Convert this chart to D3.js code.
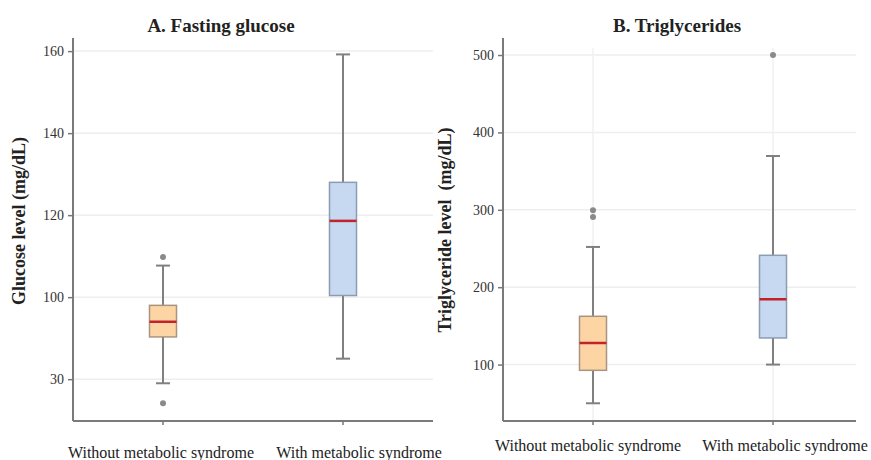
<!DOCTYPE html>
<html>
<head>
<meta charset="utf-8">
<script src="https://cdn.jsdelivr.net/npm/d3@7"></script>
<style>
  body { margin: 0; background: #fff; }
  svg { font-family: "Liberation Serif", "Times New Roman", serif; }
</style>
</head>
<body>
<svg id="chart" width="871" height="460"></svg>
<script>
// categories shared by both panels
var groups = ["Without metabolic syndrome", "With metabolic syndrome"];

// A. fasting glucose
var glucoseLow = [79, 85];
var glucoseQ1 = [90.3, 100.4];
var glucoseMedian = [94, 118.6];
var glucoseQ3 = [98, 128];
var glucoseHigh = [107.7, 159.2];
var glucoseOutliers = [[109.8, 74.1], []];
var glucoseTicks = [80, 100, 120, 140, 160];
var glucoseTickLabels = ["30", "100", "120", "140", "160"];

// B. triglycerides
var trigLow = [50, 100];
var trigQ1 = [92.6, 134.4];
var trigMedian = [127.9, 184.4];
var trigQ3 = [162.4, 241.2];
var trigHigh = [252, 369.5];
var trigOutliers = [[299.5, 290.7], [500]];
var trigTicks = [100, 200, 300, 400, 500];
var trigTickLabels = ["100", "200", "300", "400", "500"];

var fills = ["#fdd4a3", "#c6d9f0"];
var strokes = ["#a89580", "#8c9cb3"];

var svg = d3.select("#chart");

function drawPanel(opt) {
  var g = svg.append("g");
  var x = d3.scalePoint().domain(groups).range([opt.left, opt.left + 360]).padding(0.5);
  var y = d3.scaleLinear().domain(opt.domain).range([opt.bottom, opt.top]);

  // light grid
  g.selectAll(".hgrid")
    .data(opt.ticks)
    .enter()
    .append("line")
    .attr("x1", opt.left)
    .attr("x2", opt.right)
    .attr("y1", (d) => y(d))
    .attr("y2", (d) => y(d))
    .attr("stroke", "#eeeeee")
    .attr("stroke-width", 1.5);

  if (opt.vgrid) {
    g.selectAll(".vgrid")
      .data(groups)
      .enter()
      .append("line")
      .attr("x1", (d) => x(d))
      .attr("x2", (d) => x(d))
      .attr("y1", opt.top + 10)
      .attr("y2", opt.bottom)
      .attr("stroke", "#f0f0f0")
      .attr("stroke-width", 1.5);
  }

  // Y axis
  var yAxis = g
    .append("g")
    .attr("transform", "translate(" + opt.left + ",0)")
    .call(
      d3.axisLeft(y)
        .tickValues(opt.ticks)
        .tickSize(5)
        .tickPadding(4)
        .tickFormat((d, i) => opt.tickLabels[i])
    )
    .attr("font-family", null)
    .attr("font-size", null);
  yAxis.select(".domain").remove();
  yAxis.selectAll(".tick line").attr("stroke", "#777").attr("stroke-width", 1.5);
  yAxis.selectAll(".tick text")
    .attr("fill", "#333")
    .style("font-size", "14px");

  // axis lines
  g.append("line")
    .attr("x1", opt.left).attr("x2", opt.left)
    .attr("y1", opt.top).attr("y2", opt.bottom)
    .attr("stroke", "#7a7a7a").attr("stroke-width", 2);
  g.append("line")
    .attr("x1", opt.left).attr("x2", opt.right)
    .attr("y1", opt.bottom).attr("y2", opt.bottom)
    .attr("stroke", "#7a7a7a").attr("stroke-width", 2);

  // x ticks
  g.selectAll(".xtick")
    .data(groups)
    .enter()
    .append("line")
    .attr("x1", (d) => x(d)).attr("x2", (d) => x(d))
    .attr("y1", opt.bottom).attr("y2", opt.bottom + 4)
    .attr("stroke", "#777").attr("stroke-width", 1.5);

  var boxW = 27, capW = 14;
  groups.forEach(function (name, i) {
    var cx = x(name);
    // whisker
    g.append("line")
      .attr("x1", cx).attr("x2", cx)
      .attr("y1", y(opt.high[i])).attr("y2", y(opt.low[i]))
      .attr("stroke", "#808080").attr("stroke-width", 2);
    [opt.high[i], opt.low[i]].forEach(function (v) {
      g.append("line")
        .attr("x1", cx - capW / 2).attr("x2", cx + capW / 2)
        .attr("y1", y(v)).attr("y2", y(v))
        .attr("stroke", "#808080").attr("stroke-width", 2);
    });
    // box
    g.append("rect")
      .attr("x", cx - boxW / 2)
      .attr("width", boxW)
      .attr("y", y(opt.q3[i]))
      .attr("height", y(opt.q1[i]) - y(opt.q3[i]))
      .attr("fill", fills[i])
      .attr("stroke", strokes[i])
      .attr("stroke-width", 1.5);
    // median
    g.append("line")
      .attr("x1", cx - boxW / 2).attr("x2", cx + boxW / 2)
      .attr("y1", y(opt.median[i])).attr("y2", y(opt.median[i]))
      .attr("stroke", "#c0232b").attr("stroke-width", 2.5);
    // outliers
    g.selectAll(".out" + i)
      .data(opt.outliers[i])
      .enter()
      .append("circle")
      .attr("cx", cx)
      .attr("cy", (d) => y(d))
      .attr("r", 3)
      .attr("fill", "#8a8a8a");
  });

  // x labels
  g.selectAll(".xlabel")
    .data(groups)
    .enter()
    .append("text")
    .attr("x", (d, i) => x(d) + opt.labelShift[i])
    .attr("y", opt.labelY)
    .attr("text-anchor", "middle")
    .attr("fill", "#222")
    .style("font-size", "16px")
    .text((d) => d);

  // title
  g.append("text")
    .attr("x", opt.titleX)
    .attr("y", 32)
    .attr("text-anchor", "middle")
    .attr("fill", "#222")
    .style("font-size", "19px")
    .style("font-weight", "bold")
    .text(opt.title);

  // y label
  g.append("text")
    .attr("transform", "translate(" + opt.ylabelX + "," + opt.ylabelY + ") rotate(-90)")
    .attr("text-anchor", "middle")
    .attr("fill", "#222")
    .style("font-size", "18px")
    .style("font-weight", "bold")
    .text(opt.ylabel);
}

drawPanel({
  left: 73, right: 433, top: 38, bottom: 421,
  domain: [69.8, 163.2],
  ticks: glucoseTicks, tickLabels: glucoseTickLabels,
  low: glucoseLow, q1: glucoseQ1, median: glucoseMedian, q3: glucoseQ3, high: glucoseHigh,
  outliers: glucoseOutliers,
  vgrid: false,
  labelY: 458, labelShift: [-2, 16],
  title: "A. Fasting glucose", titleX: 221,
  ylabel: "Glucose level (mg/dL)", ylabelX: 25, ylabelY: 221
});

drawPanel({
  left: 503, right: 856, top: 38, bottom: 421,
  domain: [27.1, 522],
  ticks: trigTicks, tickLabels: trigTickLabels,
  low: trigLow, q1: trigQ1, median: trigMedian, q3: trigQ3, high: trigHigh,
  outliers: trigOutliers,
  vgrid: true,
  labelY: 451, labelShift: [-5, 12],
  title: "B. Triglycerides", titleX: 677,
  ylabel: "Triglyceride level\u00a0 (mg/dL)", ylabelX: 451, ylabelY: 230
});
</script>
</body>
</html>
